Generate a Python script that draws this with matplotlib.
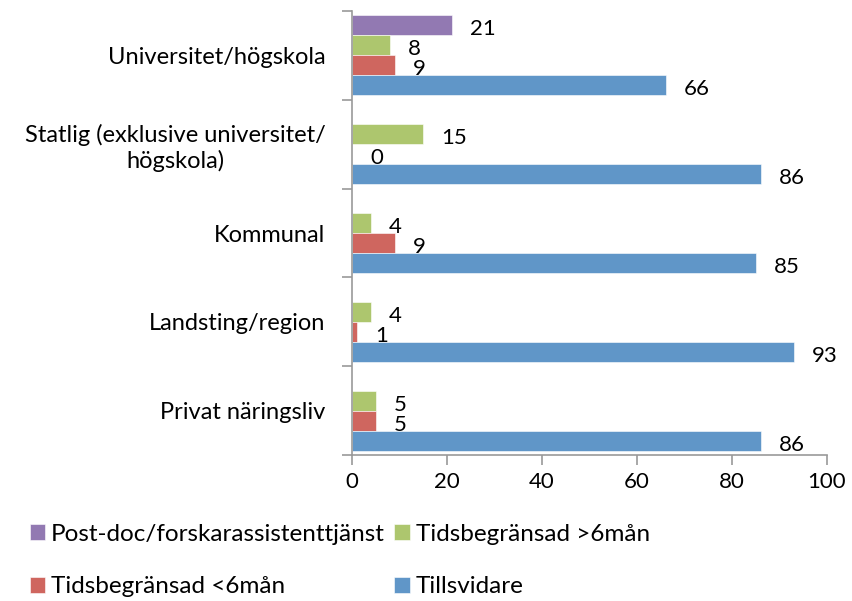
import numpy as np
import matplotlib.pyplot as plt

plt.rcParams['font.family'] = ['Lato', 'DejaVu Sans']

categories = ["Universitet/högskola",
              "Statlig (exklusive universitet/\nhögskola)",
              "Kommunal",
              "Landsting/region",
              "Privat näringsliv"]
series_names = ["Post-doc/forskarassistenttjänst",
                "Tidsbegränsad >6mån",
                "Tidsbegränsad <6mån",
                "Tillsvidare"]
postdoc = [21, np.nan, np.nan, np.nan, np.nan]
tids_long = [8, 15, 4, 4, 5]
tids_short = [9, 0, 9, 1, 5]
tillsvidare = [66, 86, 85, 93, 86]
colors = ["#9279B2", "#ADC66E", "#CF665F", "#6096C8"]
xticks = [0, 20, 40, 60, 80, 100]


def main():
    fig = plt.figure(figsize=(8.53, 6.01), dpi=100)
    ax = fig.add_axes([352 / 853, 1 - 455 / 601, 475 / 853, 444 / 601])

    y = np.arange(len(categories))
    h = 0.225
    offsets = [-1.5 * h, -0.5 * h, 0.5 * h, 1.5 * h]
    allvals = [postdoc, tids_long, tids_short, tillsvidare]
    handles = []
    for vals, off, col, name in zip(allvals, offsets, colors, series_names):
        bars = ax.barh(y + off, vals, height=h, color=col, label=name,
                       edgecolor="white", linewidth=0.4)
        handles.append(bars)
        for yy, v in zip(y + off, vals):
            if np.isnan(v):
                continue
            ax.annotate("{0:g}".format(v), xy=(v, yy), xytext=(18, -4),
                        textcoords="offset pixels", ha="left", va="center",
                        fontsize=16)

    ax.set_xlim(0, 100)
    ax.set_ylim(len(categories) - 0.5, -0.5)
    ax.set_xticks(xticks)
    ax.tick_params(axis="x", length=7, width=1.2, color="#999999",
                   labelsize=16, pad=5)

    # category boundaries as ticks, labels as minor ticks
    ax.set_yticks(np.arange(-0.5, len(categories)), minor=False)
    ax.set_yticklabels([])
    ax.set_yticks(y, minor=True)
    ax.set_yticklabels(categories, minor=True, fontsize=17,
                       multialignment="center")
    ax.tick_params(axis="y", which="major", length=7, width=1.2,
                   color="#999999")
    ax.tick_params(axis="y", which="minor", length=0, pad=19)

    for s in ["top", "right"]:
        ax.spines[s].set_visible(False)
    for s in ["left", "bottom"]:
        ax.spines[s].set_color("#999999")
        ax.spines[s].set_linewidth(1.2)

    order = [0, 2, 1, 3]
    fig.legend([handles[i] for i in order], [series_names[i] for i in order],
               ncol=2, loc="upper left", bbox_to_anchor=(20 / 853, 1 - 514 / 601),
               frameon=False, fontsize=17.5, handlelength=0.62, handleheight=0.62,
               handletextpad=0.25, labelspacing=1.3, columnspacing=0.4,
               borderaxespad=0)

    fig.savefig("out.png", dpi=100)


if __name__ == "__main__":
    main()
